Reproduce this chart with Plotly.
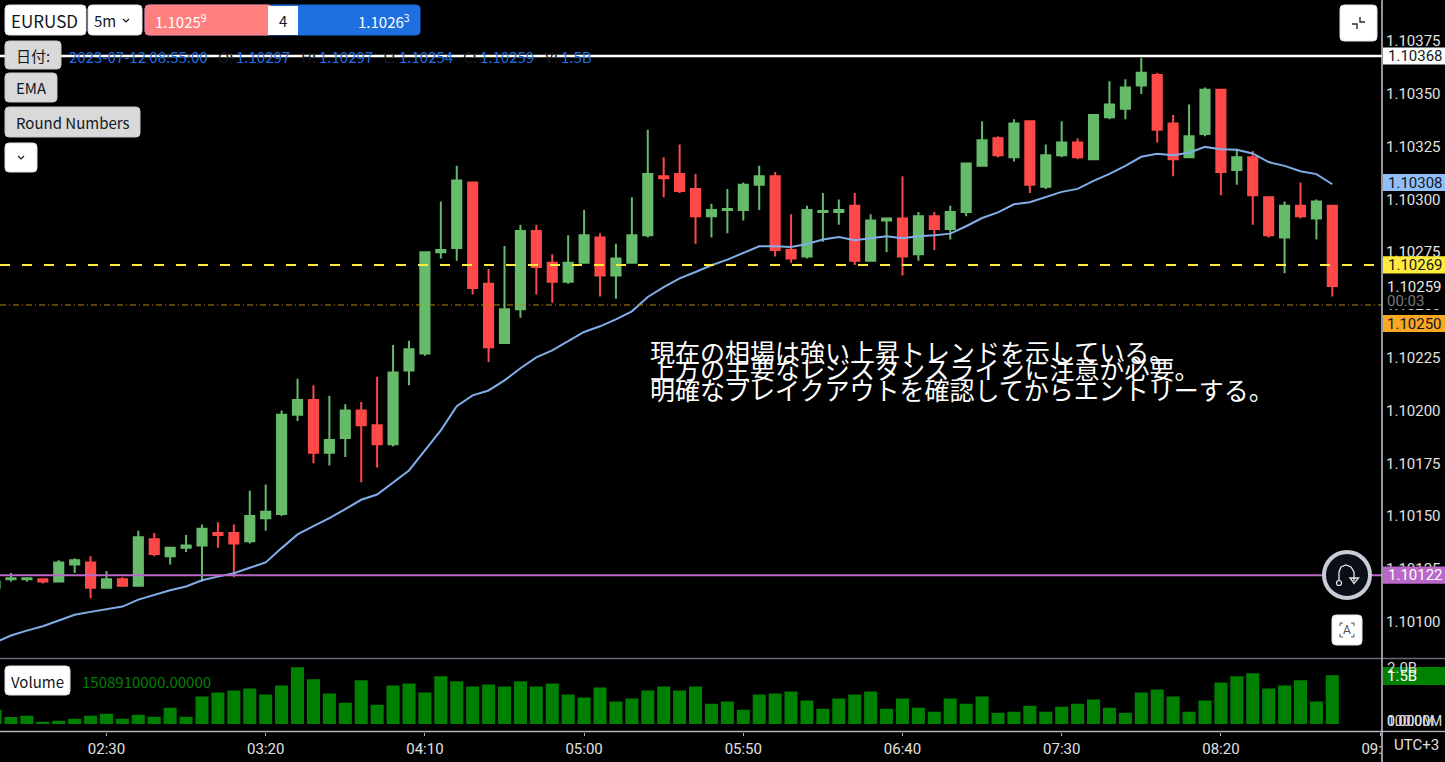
import pandas as pd
import plotly.graph_objects as go

W, H = 1445, 762

# ---------------- data ----------------
TIMES = pd.date_range("2023-07-12 01:55", "2023-07-12 08:55", freq="5min")
OPEN = [1.10116,1.10120,1.10120,1.10120,1.10119,1.10127,1.10128,1.10116,1.10120,1.10117,
        1.10139,1.10131,1.10135,1.10136,1.10142,1.10142,1.10138,1.10149,1.10151,1.10198,
        1.10205,1.10180,1.10187,1.10200,1.10193,1.10184,1.10219,1.10227,1.10275,1.10277,
        1.10308,1.10260,1.10232,1.10248,1.10285,1.10270,1.10261,1.10270,1.10282,1.10264,
        1.10270,1.10283,1.10311,1.10312,1.10305,1.10292,1.10295,1.10295,1.10307,1.10311,
        1.10276,1.10273,1.10294,1.10294,1.10297,1.10271,1.10290,1.10291,1.10274,1.10292,
        1.10286,1.10294,1.10316,1.10329,1.10320,1.10337,1.10306,1.10321,1.10327,1.10319,
        1.10339,1.10343,1.10354,1.10359,1.10336,1.10320,1.10331,1.10352,1.10314,1.10320,
        1.10301,1.10282,1.10297,1.10291,1.10297]
HIGH = [1.10120,1.10123,1.10121,1.10120,1.10129,1.10130,1.10131,1.10124,1.10121,1.10143,
        1.10142,1.10135,1.10141,1.10146,1.10147,1.10146,1.10162,1.10165,1.10200,1.10215,
        1.10212,1.10207,1.10203,1.10204,1.10216,1.10231,1.10233,1.10275,1.10299,1.10316,
        1.10308,1.10267,1.10278,1.10288,1.10288,1.10274,1.10283,1.10295,1.10284,1.10279,
        1.10301,1.10333,1.10320,1.10326,1.10312,1.10298,1.10305,1.10308,1.10316,1.10313,
        1.10293,1.10297,1.10303,1.10300,1.10303,1.10293,1.10291,1.10311,1.10294,1.10294,
        1.10297,1.10317,1.10337,1.10330,1.10338,1.10337,1.10326,1.10337,1.10329,1.10340,
        1.10356,1.10357,1.10367,1.10360,1.10340,1.10345,1.10353,1.10352,1.10324,1.10323,
        1.10301,1.10299,1.10308,1.10300,1.10297]
LOW = [1.10115,1.10119,1.10119,1.10118,1.10119,1.10123,1.10111,1.10116,1.10117,1.10117,
       1.10131,1.10127,1.10133,1.10119,1.10135,1.10121,1.10137,1.10143,1.10150,1.10195,
       1.10175,1.10174,1.10178,1.10166,1.10173,1.10183,1.10212,1.10226,1.10272,1.10271,
       1.10255,1.10223,1.10232,1.10244,1.10255,1.10251,1.10260,1.10270,1.10254,1.10253,
       1.10270,1.10282,1.10301,1.10303,1.10279,1.10282,1.10284,1.10290,1.10295,1.10273,
       1.10270,1.10272,1.10280,1.10288,1.10269,1.10271,1.10275,1.10264,1.10271,1.10276,
       1.10281,1.10292,1.10316,1.10320,1.10318,1.10303,1.10305,1.10320,1.10319,1.10319,
       1.10338,1.10338,1.10350,1.10327,1.10311,1.10320,1.10330,1.10302,1.10307,1.10288,
       1.10282,1.10265,1.10291,1.10281,1.10254]
CLOSE = [1.10119,1.101205,1.101205,1.10119,1.10128,1.10129,1.10116,1.10120,1.10117,1.10140,
         1.10132,1.10135,1.10136,1.10144,1.10141,1.10137,1.10150,1.10152,1.10198,1.10205,
         1.10180,1.10186,1.10200,1.10193,1.10184,1.10218,1.10229,1.10275,1.10276,1.10309,
         1.10258,1.10230,1.10248,1.10285,1.10268,1.10261,1.10270,1.10283,1.10264,1.10272,
         1.10283,1.10312,1.10310,1.10304,1.10292,1.10295,1.102955,1.10307,1.10311,1.10276,
         1.10272,1.10295,1.102945,1.10295,1.10271,1.10290,1.10291,1.10273,1.10292,1.10286,
         1.10294,1.10317,1.10328,1.10321,1.10336,1.10307,1.10321,1.10327,1.10320,1.10340,
         1.10345,1.10353,1.10360,1.10333,1.10319,1.10330,1.10352,1.10313,1.10320,1.10302,
         1.10283,1.10297,1.10292,1.10299,1.10259]
EMA = [1.100900,1.100934,1.100957,1.100978,1.101005,1.101032,1.101046,1.101060,1.101071,1.101104,
       1.101127,1.101148,1.101166,1.101196,1.101213,1.101229,1.101255,1.101280,1.101348,1.101413,
       1.101452,1.101490,1.101533,1.101577,1.101602,1.101658,1.101716,1.101811,1.101906,1.102020,
       1.102072,1.102095,1.102143,1.102200,1.102252,1.102285,1.102328,1.102372,1.102399,1.102432,
       1.102470,1.102538,1.102585,1.102626,1.102656,1.102688,1.102715,1.102746,1.102778,1.102778,
       1.102775,1.102789,1.102810,1.102822,1.102807,1.102816,1.102826,1.102816,1.102826,1.102830,
       1.102838,1.102873,1.102912,1.102939,1.102977,1.102987,1.103012,1.103036,1.103050,1.103088,
       1.103121,1.103159,1.103202,1.103216,1.103210,1.103221,1.103249,1.103238,1.103235,1.103218,
       1.103177,1.103159,1.103134,1.103120,1.103072]
VOLUME = [440,210,250,63,94,157,250,314,157,283,
          220,502,220,848,973,1036,1099,911,1193,1758,
          1382,942,659,1350,597,1193,1256,973,1476,1319,
          1162,1225,1162,1319,1162,1256,911,816,1130,691,
          785,1036,1162,1036,1162,628,691,440,911,942,
          1005,722,471,785,911,1005,471,785,502,377,
          785,628,848,345,377,565,377,534,628,754,
          502,345,973,1068,848,377,722,1287,1476,1570,
          1099,1193,1350,691,1509]
VOLUME = [v * 1e6 for v in VOLUME]

PRICE_TICKS = [1.10100,1.10125,1.10150,1.10175,1.10200,1.10225,1.10250,1.10275,1.10300,1.10325,1.10350,1.10375]
TIME_TICKS = ["02:30","03:20","04:10","05:00","05:50","06:40","07:30","08:20","09:10"]

RESISTANCE = 1.10368
EMA_LAST = 1.10308
DASHED = 1.10269
LAST_CLOSE = 1.10259
DASHDOT = 1.10250
SUPPORT = 1.10122

NOTES = ["現在の相場は強い上昇トレンドを示している。",
         "上方の主要なレジスタンスラインに注意が必要。",
         "明確なブレイクアウトを確認してからエントリーする。"]
VOLUME_READOUT = "1508910000.00000"
OHLC_BLUE = "#1e6fe0"

# ---------------- layout helpers (pixel to paper) ----------------
AX_X = 1382
PANE_Y = 658.5
BOT_Y = 731.5
def px(x): return x / W
def py(y): return 1 - y / H

UI = "Noto Sans CJK JP"
NUM = "Roboto"
shapes, ann = [], []

def rrect(x0, y0, x1, y1, fill, line="#e0e3eb", r=4, lw=1):
    d = (f"M {px(x0+r)} {py(y0)} L {px(x1-r)} {py(y0)} Q {px(x1)} {py(y0)} {px(x1)} {py(y0+r)} "
         f"L {px(x1)} {py(y1-r)} Q {px(x1)} {py(y1)} {px(x1-r)} {py(y1)} "
         f"L {px(x0+r)} {py(y1)} Q {px(x0)} {py(y1)} {px(x0)} {py(y1-r)} "
         f"L {px(x0)} {py(y0+r)} Q {px(x0)} {py(y0)} {px(x0+r)} {py(y0)} Z")
    shapes.append(dict(type="path", xref="paper", yref="paper", path=d, fillcolor=fill,
                       line=dict(color=line, width=lw), layer="above"))

def poly(points, color="#131722", lw=1.2, fill=None, close=False):
    d = "M " + " L ".join(f"{px(a)} {py(b)}" for a, b in points) + (" Z" if close else "")
    shapes.append(dict(type="path", xref="paper", yref="paper", path=d,
                       fillcolor=fill if fill else "rgba(0,0,0,0)",
                       line=dict(color=color, width=lw), layer="above"))

def rect(x0, y0, x1, y1, fill):
    shapes.append(dict(type="rect", xref="paper", yref="paper", x0=px(x0), x1=px(x1), y0=py(y0), y1=py(y1),
                       fillcolor=fill, line=dict(width=0), layer="above"))

def vline_px(x, y0, y1, color, w=1):
    shapes.append(dict(type="line", xref="paper", yref="paper", x0=px(x), x1=px(x), y0=py(y0), y1=py(y1),
                       line=dict(color=color, width=w), layer="above"))

def hline_px(x0, x1, y, color, w=1):
    shapes.append(dict(type="line", xref="paper", yref="paper", x0=px(x0), x1=px(x1), y0=py(y), y1=py(y),
                       line=dict(color=color, width=w), layer="above"))

def text(x, y, s, color="#131722", size=15, font=UI, anchor="left"):
    ann.append(dict(xref="paper", yref="paper", x=px(x), y=py(y), text=s, showarrow=False,
                    xanchor=anchor, yanchor="middle", font=dict(color=color, size=size, family=font),
                    borderpad=0, borderwidth=0))

def hprice(val, color, width, dash="solid"):
    shapes.append(dict(type="line", xref="x domain", yref="y", x0=0, x1=1, y0=val, y1=val,
                       line=dict(color=color, width=width, dash=dash), layer="above"))

def badge(val, s, bg, fg="#131722", half=0.0000405):
    shapes.append(dict(type="rect", xref="paper", yref="y", x0=px(AX_X + 1), x1=1, y0=val - half, y1=val + half,
                       fillcolor=bg, line=dict(width=0), layer="above"))
    ann.append(dict(xref="paper", yref="y", x=px(1387), y=val, text=s, showarrow=False, xanchor="left",
                    yanchor="middle", font=dict(color=fg, size=15, family=NUM), borderpad=0))

# ---------------- price lines ----------------
hprice(RESISTANCE, "#ffffff", 2.5)
hprice(DASHED, "#ffeb3b", 2, "10px,12px")
hprice(DASHDOT, "#b8860b", 1, "6px,3px,1px,3px")
hprice(SUPPORT, "#ba68c8", 2)

# ---------------- axis frame ----------------
hline_px(0, W, PANE_Y, "#666a78", 1.5)
hline_px(0, W, BOT_Y, "#b2b5be", 1.5)
rect(AX_X + 1, BOT_Y + 1, W, H, "#000000")
vline_px(AX_X, 0, H, "#c4c6d0", 1.5)

# ---------------- right-hand badges ----------------
badge(RESISTANCE, "1.10368", "#ffffff")
badge(EMA_LAST, "1.10308", "#90bff9")
badge(DASHED, "1.10269", "#ffeb3b")
rect(AX_X + 1, 276, W, 309, "#000000")
text(1387, 286.5, f"{LAST_CLOSE:.5f}", "#e8e8e8", 15, NUM)
text(1387, 301, "00:03", "#777777", 15, NUM)
rect(AX_X + 1, 315, W, 332, "#f9a825")
text(1387, 323.5, f"{DASHDOT:.5f}", "#131722", 15, NUM)
badge(SUPPORT, "1.10122", "#ba68c8", "#ffffff")

# volume-axis labels
text(1387, 668, "2.0B", "#d8d8d8", 15, NUM)
rect(AX_X + 1, 667, W, 685, "#008000")
text(1387, 676, "1.5B", "#ffffff", 15, NUM)
for s in ["0.0000M", "100.0M", "0.0000"]:
    text(1387, 721, s, "#d8d8d8", 14, NUM)
text(1394, 745, "UTC+3", "#e0e0e0", 15, NUM)

# ---------------- top-left widgets ----------------
rrect(5, 5, 86, 35, "#ffffff")
text(11, 21, "EURUSD", size=17)
rrect(88, 5, 142, 35, "#ffffff")
text(94, 21, "5m", size=15)
poly([(123, 19), (126, 22), (129, 19)])
rrect(145, 5, 420, 35, "#1e6fe0", line="#1e6fe0")
rrect(145, 5, 272, 35, "#ff7f7f", line="#ff7f7f")
rect(268, 6, 298, 35, "#ffffff")
text(155, 21, "1.1025<sup>9</sup>", "#ffffff", 15)
text(282.5, 21, "4", size=15, anchor="center")
text(358, 21, "1.1026<sup>3</sup>", "#ffffff", 15)
rrect(5, 41, 61, 69, "#d9d9d9", line="#c8c8c8")
text(33, 56, "日付:", size=15, anchor="center")
rrect(5, 73, 57, 102, "#d9d9d9", line="#c8c8c8")
text(31, 88, "EMA", size=15, anchor="center")
rrect(5, 107, 140, 137, "#d9d9d9", line="#c8c8c8")
text(72.5, 123, "Round Numbers", size=15, anchor="center")
rrect(5, 143, 37, 172, "#ffffff")
poly([(18, 156), (21, 159), (24, 156)])
for x, s, c in [(69, "2023-07-12 08:55:00", OHLC_BLUE), (218, "O:", "#131722"), (236, f"{OPEN[-1]:.5f}", OHLC_BLUE),
                (301, "H:", "#131722"), (319, f"{HIGH[-1]:.5f}", OHLC_BLUE), (383, "L:", "#131722"),
                (399, f"{LOW[-1]:.5f}", OHLC_BLUE), (463, "C:", "#131722"), (480, f"{CLOSE[-1]:.5f}", OHLC_BLUE),
                (545, "V:", "#131722"), (561, "1.5B", OHLC_BLUE)]:
    text(x, 56.5, s, c, 15)

# volume legend
rrect(5, 666, 70, 695, "#ffffff")
text(37.5, 681, "Volume", size=15, anchor="center")
text(82, 681, VOLUME_READOUT, "#008000", 15)

# top-right collapse button
rrect(1340, 5, 1377, 41, "#ffffff")
poly([(1352, 24), (1357, 24), (1357, 29)], "#2a2e39", 1.4)
poly([(1360, 17), (1360, 22), (1365, 22)], "#2a2e39", 1.4)

# magnet / scroll button
cx, cy, r = 1347, 575, 23
shapes.append(dict(type="circle", xref="paper", yref="paper", x0=px(cx - r), x1=px(cx + r), y0=py(cy + r), y1=py(cy - r),
                   fillcolor="#0a0e17", line=dict(color="#c9ccd6", width=4), layer="above"))
arc = [(1339, 580), (1339, 572), (1341, 567), (1346, 565), (1351, 567), (1354, 572), (1354, 581)]
poly(arc, "#e8e8e8", 1.3)
poly([(1350, 578), (1358.5, 578), (1354, 583.5)], "#e8e8e8", 1.3, close=True)
shapes.append(dict(type="circle", xref="paper", yref="paper", x0=px(1336.5), x1=px(1341.5), y0=py(585.5), y1=py(580.5),
                   fillcolor="#0a0e17", line=dict(color="#e8e8e8", width=1.2), layer="above"))

# A button
rrect(1332, 615, 1362, 645, "#ffffff")
text(1347, 630, "A", "#50535e", 12, NUM, "center")
for pts in [[(1340, 626), (1340, 623), (1343, 623)], [(1351, 623), (1354, 623), (1354, 626)],
            [(1340, 634), (1340, 637), (1343, 637)], [(1351, 637), (1354, 637), (1354, 634)]]:
    poly(pts, "#50535e", 1)

# notes on the chart
for x, y, s in zip([650, 650, 650], [350.5, 368.5, 388.5], NOTES):
    text(x, y, s, "#ffffff", 25, UI)

# ---------------- figure ----------------
fig = go.Figure()
fig.add_trace(go.Candlestick(
    x=TIMES, open=OPEN, high=HIGH, low=LOW, close=CLOSE, xaxis="x", yaxis="y",
    increasing=dict(line=dict(color="#66bb6a", width=2), fillcolor="#66bb6a"),
    decreasing=dict(line=dict(color="#ff4848", width=2), fillcolor="#ff4848"),
    whiskerwidth=0, showlegend=False, hoverinfo="skip"))
fig.add_trace(go.Scatter(x=TIMES, y=EMA, mode="lines", xaxis="x", yaxis="y",
                         line=dict(color="#80aee8", width=2), showlegend=False, hoverinfo="skip"))
fig.add_trace(go.Bar(x=TIMES, y=VOLUME, xaxis="x", yaxis="y2", marker=dict(color="#008000", line=dict(width=0)),
                     showlegend=False, hoverinfo="skip"))

tick_dates = [f"2023-07-12 {t}" for t in TIME_TICKS]
fig.update_layout(
    width=W, height=H, margin=dict(l=0, r=0, t=0, b=0, autoexpand=False), autosize=False,
    paper_bgcolor="#000000", plot_bgcolor="#000000", bargap=0.18, boxgap=0.18, showlegend=False,
    hovermode=False, dragmode=False,
    xaxis=dict(domain=[0, AX_X / W], anchor="y2", range=["2023-07-12 01:56:33", "2023-07-12 09:10:36"],
               rangeslider=dict(visible=False), tickmode="array", tickvals=tick_dates, ticktext=TIME_TICKS,
               showgrid=False, zeroline=False, ticks="outside", ticklen=3, tickcolor="#b2b5be",
               tickfont=dict(color="#e0e0e0", size=15, family=NUM), showline=False, tickangle=0),
    yaxis=dict(domain=[py(PANE_Y), 1], anchor="x", side="right", range=[1.100825, 1.103945],
               tickmode="array", tickvals=PRICE_TICKS, ticktext=[f"{p:.5f}" for p in PRICE_TICKS],
               showgrid=False, zeroline=False, ticks="", ticklabelstandoff=3, showline=False,
               tickfont=dict(color="#e0e0e0", size=15, family=NUM)),
    yaxis2=dict(domain=[py(BOT_Y), py(PANE_Y)], anchor="x", side="right", range=[-236e6, 2028e6],
                showticklabels=False, showgrid=False, zeroline=False, ticks="", showline=False),
    shapes=shapes, annotations=ann,
)

fig.write_html("out.html", config=dict(displayModeBar=False, staticPlot=True),
               post_script="document.body.style.margin='0';document.body.style.background='#000';document.body.style.overflow='hidden';")
